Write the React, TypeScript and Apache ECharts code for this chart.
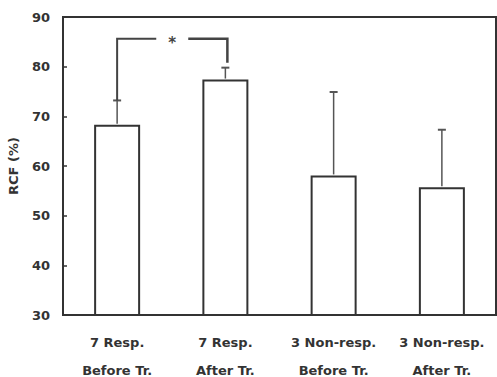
import React, { useEffect, useRef } from "react";
import * as echarts from "echarts";

const groupLabels = ["7 Resp.", "7 Resp.", "3 Non-resp.", "3 Non-resp."];
const phaseLabels = ["Before Tr.", "After Tr.", "Before Tr.", "After Tr."];
const meanValues = [68.3, 77.4, 58.1, 55.7];
const sdValues = [4.9, 2.4, 16.8, 11.6];
const yTicks = { min: 30, max: 90, interval: 10 };
// significance bracket: [fromIndex, toIndex, topValue, leftEndValue, rightEndValue]
const bracket = [[0, 1, 85.6, 73.2, 80.8]];
const bracketMark = "*";

const FONT = "DejaVu Sans";
const INK = "#333";

export default function App() {
  const ref = useRef<HTMLDivElement>(null);
  useEffect(() => {
    if (!ref.current) return;
    const chart = echarts.init(ref.current, null, { renderer: "svg" });
    const categories = groupLabels.map((g, i) => g + "\n" + phaseLabels[i]);
    chart.setOption({
      animation: false,
      backgroundColor: "#fff",
      grid: {
        left: 63,
        right: 1,
        top: 17,
        bottom: 62,
        outerBoundsMode: "none",
        containLabel: false,
        show: true,
        borderColor: INK,
        borderWidth: 2,
        backgroundColor: "transparent",
      },
      xAxis: {
        type: "category",
        data: categories,
        axisLine: { show: true, lineStyle: { color: INK, width: 2 } },
        axisTick: { show: false },
        axisLabel: {
          color: INK,
          fontFamily: FONT,
          fontWeight: "bold",
          fontSize: 13,
          lineHeight: 28,
          margin: 13,
          interval: 0,
        },
      },
      yAxis: {
        type: "value",
        min: yTicks.min,
        max: yTicks.max,
        interval: yTicks.interval,
        name: "RCF (%)",
        nameLocation: "middle",
        nameGap: 43,
        nameTextStyle: { color: INK, fontFamily: FONT, fontWeight: "bold", fontSize: 13 },
        axisLine: { show: true, lineStyle: { color: INK, width: 2 } },
        axisTick: { show: true, inside: true, length: 4, lineStyle: { color: INK, width: 1.5 } },
        splitLine: { show: false },
        axisLabel: { color: INK, fontFamily: FONT, fontWeight: "bold", fontSize: 13, margin: 13 },
      },
      series: [
        {
          type: "bar",
          data: meanValues,
          barWidth: 46,
          itemStyle: { color: "#fff", borderColor: INK, borderWidth: 2 },
          z: 2,
        },
        {
          type: "custom",
          data: meanValues.map((m, i) => [i, m, sdValues[i]]),
          z: 3,
          renderItem: (params: any, api: any) => {
            const x = api.value(0);
            const m = api.value(1);
            const s = api.value(2);
            const base = api.coord([x, m]);
            const top = api.coord([x, m + s]);
            return {
              type: "group",
              children: [
                {
                  type: "line",
                  shape: { x1: base[0], y1: base[1] - 1, x2: top[0], y2: top[1] },
                  style: { stroke: "#555", lineWidth: 1.5 },
                },
                {
                  type: "line",
                  shape: { x1: top[0] - 4, y1: top[1], x2: top[0] + 4, y2: top[1] },
                  style: { stroke: "#555", lineWidth: 2 },
                },
              ],
            };
          },
        },
        {
          type: "custom",
          data: bracket,
          z: 4,
          renderItem: (params: any, api: any) => {
            const i0 = api.value(0);
            const i1 = api.value(1);
            const topV = api.value(2);
            const lV = api.value(3);
            const rV = api.value(4);
            const pl = api.coord([i0, topV]);
            const pr = api.coord([i1, topV]);
            const plb = api.coord([i0, lV]);
            const prb = api.coord([i1, rV]);
            const xl = pl[0];
            const xr = pr[0] + 2;
            const y = pl[1];
            const mid = (xl + xr) / 2;
            const gap = 16;
            return {
              type: "group",
              children: [
                {
                  type: "polyline",
                  shape: { points: [[xl, plb[1]], [xl, y], [mid - gap, y]] },
                  style: { stroke: "#444", lineWidth: 2, fill: "none" },
                },
                {
                  type: "polyline",
                  shape: { points: [[mid + gap, y], [xr, y], [xr, prb[1]]] },
                  style: { stroke: "#444", lineWidth: 2.5, fill: "none" },
                },
                {
                  type: "text",
                  x: mid,
                  y: y + 4,
                  style: {
                    text: bracketMark,
                    fill: "#444",
                    font: "bold 15px DejaVu Sans",
                    align: "center",
                    verticalAlign: "middle",
                  },
                },
              ],
            };
          },
        },
      ],
    });
    return () => chart.dispose();
  }, []);
  return (
    <div
      ref={ref}
      style={{ position: "fixed", left: 0, top: 0, width: 497, height: 377 }}
    />
  );
}
